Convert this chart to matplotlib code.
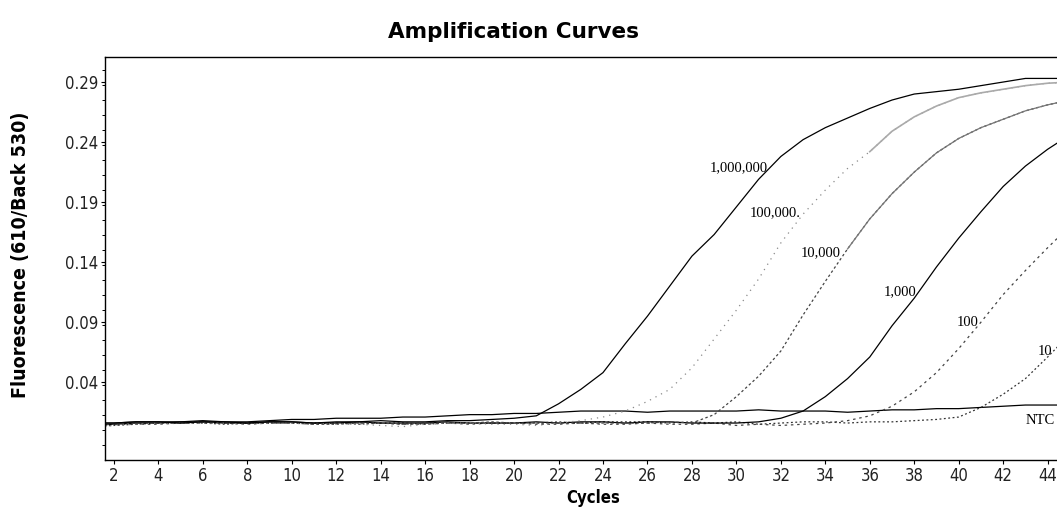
import numpy as np
import matplotlib.pyplot as plt
from matplotlib.ticker import MultipleLocator
from matplotlib import font_manager

# PCR cycles 1..45
ciclos = np.arange(1, 46)

# Fluorescence (610/Back 530) per standard
fluo_1e6 = [0.006, 0.006, 0.007, 0.007, 0.006, 0.007, 0.007, 0.006, 0.007, 0.007,
            0.006, 0.007, 0.007, 0.008, 0.007, 0.007, 0.008, 0.008, 0.009, 0.010,
            0.012, 0.022, 0.034, 0.048, 0.072, 0.095, 0.120, 0.145, 0.163, 0.186,
            0.209, 0.228, 0.242, 0.252, 0.260, 0.268, 0.275, 0.280, 0.282, 0.284,
            0.287, 0.290, 0.293, 0.293, 0.293]
fluo_1e5 = [0.003, 0.004, 0.005, 0.006, 0.006, 0.006, 0.006, 0.005, 0.006, 0.006,
            0.006, 0.005, 0.005, 0.004, 0.003, 0.005, 0.006, 0.006, 0.005, 0.005,
            0.004, 0.006, 0.008, 0.011, 0.016, 0.024, 0.034, 0.052, 0.076, 0.100,
            0.126, 0.156, 0.180, 0.200, 0.218, 0.232, 0.249, 0.261, 0.270, 0.277,
            0.281, 0.284, 0.287, 0.289, 0.290]
fluo_1e4 = [0.005, 0.005, 0.006, 0.006, 0.006, 0.007, 0.006, 0.006, 0.006, 0.006,
            0.005, 0.005, 0.006, 0.006, 0.005, 0.006, 0.006, 0.006, 0.007, 0.006,
            0.006, 0.006, 0.006, 0.006, 0.006, 0.006, 0.007, 0.006, 0.013, 0.028,
            0.045, 0.066, 0.096, 0.124, 0.151, 0.176, 0.197, 0.215, 0.231, 0.243,
            0.252, 0.259, 0.266, 0.271, 0.275]
fluo_1e3 = [0.004, 0.005, 0.006, 0.006, 0.007, 0.007, 0.006, 0.006, 0.007, 0.007,
            0.006, 0.006, 0.007, 0.006, 0.006, 0.006, 0.007, 0.006, 0.006, 0.006,
            0.007, 0.006, 0.007, 0.007, 0.006, 0.007, 0.007, 0.006, 0.006, 0.006,
            0.007, 0.010, 0.016, 0.028, 0.043, 0.061, 0.087, 0.110, 0.136, 0.160,
            0.182, 0.203, 0.220, 0.234, 0.246]
fluo_1e2 = [0.004, 0.005, 0.005, 0.005, 0.006, 0.006, 0.006, 0.005, 0.006, 0.006,
            0.005, 0.006, 0.006, 0.006, 0.005, 0.005, 0.006, 0.005, 0.006, 0.006,
            0.005, 0.005, 0.006, 0.005, 0.005, 0.006, 0.005, 0.005, 0.006, 0.004,
            0.005, 0.004, 0.005, 0.006, 0.008, 0.012, 0.020, 0.032, 0.048, 0.068,
            0.090, 0.113, 0.133, 0.152, 0.170]
fluo_1e1 = [0.003, 0.004, 0.005, 0.006, 0.006, 0.006, 0.005, 0.006, 0.006, 0.006,
            0.006, 0.006, 0.005, 0.006, 0.006, 0.005, 0.006, 0.006, 0.006, 0.006,
            0.006, 0.007, 0.006, 0.007, 0.007, 0.007, 0.006, 0.007, 0.006, 0.007,
            0.005, 0.006, 0.007, 0.007, 0.006, 0.007, 0.007, 0.008, 0.009, 0.011,
            0.019, 0.030, 0.043, 0.061, 0.080]
fluo_ntc = [0.006, 0.006, 0.007, 0.007, 0.007, 0.008, 0.007, 0.007, 0.008, 0.009,
            0.009, 0.010, 0.010, 0.010, 0.011, 0.011, 0.012, 0.013, 0.013, 0.014,
            0.014, 0.015, 0.016, 0.016, 0.016, 0.015, 0.016, 0.016, 0.016, 0.016,
            0.017, 0.016, 0.016, 0.016, 0.015, 0.016, 0.017, 0.017, 0.018, 0.018,
            0.019, 0.020, 0.021, 0.021, 0.021]

etiquetas = ['1,000,000', '100,000.', '10,000', '1,000', '100', '10', 'NTC']
# label anchor (cycle, fluorescence) next to each curve
pos_x = [31.4, 32.9, 34.7, 38.1, 40.9, 44.2, 43.0]
pos_y = [0.219, 0.181, 0.148, 0.115, 0.090, 0.066, 0.008]

ticks_x = list(range(2, 45, 2))
ticks_y = [0.04, 0.09, 0.14, 0.19, 0.24, 0.29]

# condensed sans for ticks and axis labels if available
nombres = {f.name for f in font_manager.fontManager.ttflist}
if 'Liberation Sans Narrow' in nombres:
    narrow = dict(family='Liberation Sans Narrow')
else:
    narrow = dict(family='DejaVu Sans', stretch='condensed')

fig = plt.figure(figsize=(10.57, 5.14), dpi=100)
ax = fig.add_axes([0.0993, 0.105, 0.9234, 0.784])

lw = 0.9
ax.plot(ciclos, fluo_ntc, color='black', lw=lw)
ax.plot(ciclos, fluo_1e1, color='#333333', lw=lw, ls=(0, (1.5, 2)))
ax.plot(ciclos, fluo_1e2, color='#444444', lw=lw, ls=(0, (2, 3)))
ax.plot(ciclos, fluo_1e3, color='black', lw=lw)
# 10,000 and 100,000 are dotted while rising, grey near the plateau
ax.plot(ciclos, fluo_1e4, color='#444444', lw=lw, ls=(0, (2, 2)))
ax.plot(ciclos[34:], fluo_1e4[34:], color='#777777', lw=lw)
ax.plot(ciclos, fluo_1e5, color='#8a8a8a', lw=lw, ls=(0, (1, 4)))
ax.plot(ciclos[35:], fluo_1e5[35:], color='#aaaaaa', lw=lw + 0.3)
ax.plot(ciclos, fluo_1e6, color='black', lw=lw)

for i, txt in enumerate(etiquetas):
    ha = 'left' if txt == 'NTC' else 'right'
    ax.text(pos_x[i], pos_y[i], txt, ha=ha, va='center', fontsize=10.5,
            family='Liberation Serif', color='black')

ax.set_xlim(1.6, 45.5)
ax.set_ylim(-0.0248, 0.3108)
ax.set_xticks(ticks_x)
ax.set_yticks(ticks_y)
ax.set_yticklabels(['%.2f' % v for v in ticks_y])
ax.yaxis.set_minor_locator(MultipleLocator(0.0125))
ax.tick_params(axis='both', direction='out', length=3, width=0.8, labelsize=12, pad=2)
ax.tick_params(axis='y', which='minor', length=2, width=0.7)
for lab in ax.get_xticklabels() + ax.get_yticklabels():
    lab.set_fontproperties(font_manager.FontProperties(size=12, **narrow))
    lab.set_color('#222222')

for s in ax.spines.values():
    s.set_linewidth(1.0)

ax.set_xlabel('Cycles', fontsize=12, fontweight='bold', labelpad=3, **narrow)
fig.text(0.019, 0.505, 'Fluorescence (610/Back 530)', rotation=90, ha='center', va='center',
         fontsize=14, fontweight='bold', **narrow)
fig.text(0.486, 0.938, 'Amplification Curves', ha='center', va='center',
         fontsize=15.5, fontweight='heavy', family='DejaVu Sans')

fig.savefig('out.png', dpi=100)
